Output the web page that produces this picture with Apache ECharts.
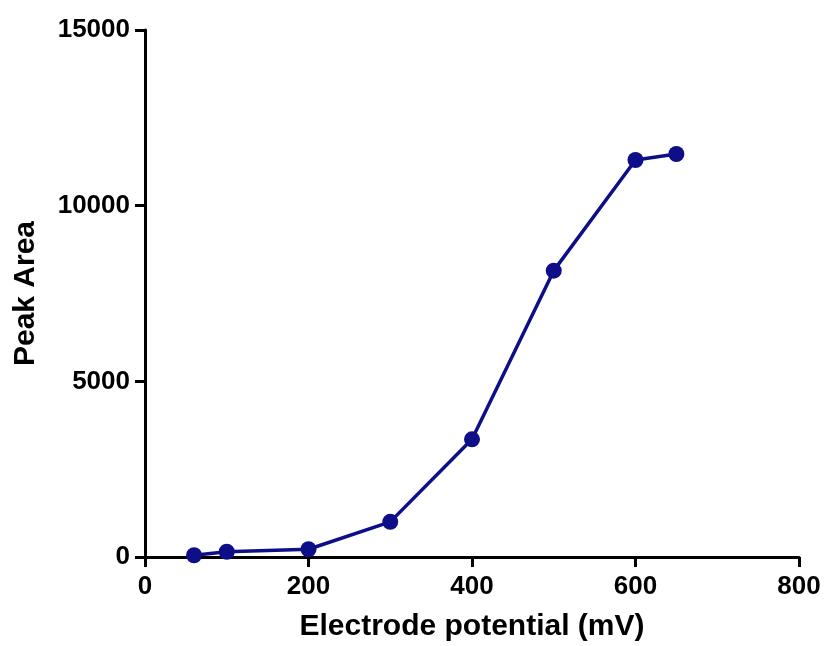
<!DOCTYPE html>
<html>
<head>
<meta charset="utf-8">
<script src="https://cdn.jsdelivr.net/npm/echarts@6/dist/echarts.min.js"></script>
<style>html,body{margin:0;padding:0;background:#fff;}#c{width:827px;height:646px;}</style>
</head>
<body>
<div id="c"></div>
<script>
const potential = [60, 100, 200, 300, 400, 500, 600, 650];
const peakArea = [50, 150, 220, 1000, 3350, 8150, 11300, 11470];
const xTicks = [0, 200, 400, 600, 800];
const yTicks = [0, 5000, 10000, 15000];

const chart = echarts.init(document.getElementById('c'), null, {renderer: 'canvas'});
const font = 'Liberation Sans, Arial, sans-serif';
const axisCommon = {
  axisLine: {show: true, onZero: false, lineStyle: {color: '#000', width: 3}},
  axisTick: {show: true, inside: false, length: 10, lineStyle: {color: '#000', width: 3}},
  splitLine: {show: false},
  axisLabel: {color: '#000', fontFamily: font, fontWeight: 'bold', fontSize: 26, formatter: v => String(v)},
  nameTextStyle: {color: '#000', fontFamily: font, fontWeight: 'bold', fontSize: 30},
  nameLocation: 'middle'
};
chart.setOption({
  animation: false,
  backgroundColor: '#fff',
  grid: {left: 145, right: 28, top: 30, bottom: 89, containLabel: false, outerBoundsMode: 'none'},
  xAxis: Object.assign({}, axisCommon, {
    type: 'value', min: xTicks[0], max: xTicks[xTicks.length-1], interval: 200,
    name: 'Electrode potential (mV)', nameGap: 55,
    axisLabel: Object.assign({}, axisCommon.axisLabel, {margin: 17})
  }),
  yAxis: Object.assign({}, axisCommon, {
    type: 'value', min: yTicks[0], max: yTicks[yTicks.length-1], interval: 5000,
    name: 'Peak Area', nameGap: 104,
    axisLabel: Object.assign({}, axisCommon.axisLabel, {margin: 15})
  }),
  series: [{
    type: 'line',
    data: potential.map((x, i) => [x, peakArea[i]]),
    symbol: 'circle', symbolSize: 16,
    lineStyle: {color: '#0e0e88', width: 3.5},
    itemStyle: {color: '#0e0e88'}
  }]
});
</script>
</body>
</html>
